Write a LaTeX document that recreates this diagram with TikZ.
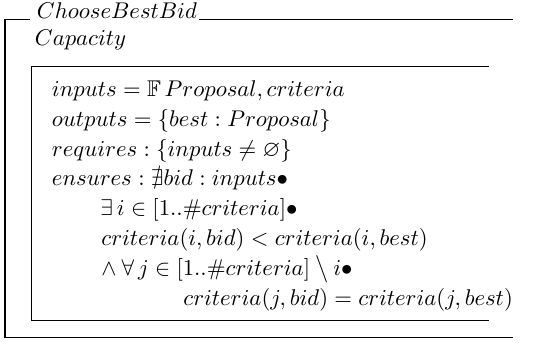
\documentclass[tikz,border=0pt]{standalone}
\usepackage{amssymb}
\begin{document}
\begin{tikzpicture}[x=0.44pt,y=-0.44pt,
  zline/.style={line width=0.45pt},
  ztext/.style={anchor=base west,inner sep=0pt,font=\normalsize}]
\useasboundingbox (0,0) rectangle (533,344);
% outer schema frame
\coordinate (tl) at (5,19.3);
\coordinate (tr) at (513,19.3);
\coordinate (bl) at (5,337.5);
\coordinate (br) at (513,337.5);
\node[ztext] (title) at (36.5,18) {$ChooseBestBid$};
\draw[zline] (title.west |- tl) ++(-6.5,0) -- (tl) -- (bl) -- (br);
\draw[zline] ([xshift=0.8pt]title.east |- tr) -- (tr);
\node[ztext] (cap) at (34.5,45.5) {$Capacity$};
% inner schema frame
\coordinate (itl) at (31.5,66.7);
\coordinate (itr) at (489,66.7);
\coordinate (ibl) at (31.5,320.5);
\coordinate (ibr) at (489,320.5);
\draw[zline] (itr) -- (itl) -- (ibl) -- (ibr);
% predicate lines
\node[ztext] (l1) at (51.5,96.5) {$inputs = \mathbb{F}\,Proposal, criteria$};
\node[ztext] (l2) at (51.5,126.3) {$outputs = \{best : Proposal\}$};
\node[ztext] (l3) at (51.5,156.1) {$requires : \{inputs \neq \varnothing\}$};
\node[ztext] (l4) at (51.5,185.9) {$ensures : \nexists bid : inputs \bullet$};
\node[ztext] (l5) at (100,215.7) {$\exists\, i \in [1..\#criteria]\bullet$};
\node[ztext] (l6) at (101,245.5) {$criteria(i, bid) < criteria(i, best)$};
\node[ztext] (l7) at (101,275.3) {$\land\:\forall\, j \in [1..\#criteria] \mathbin{\big\backslash} i\bullet$};
\node[ztext] (l8) at (183,305.1) {$criteria(j, bid) = criteria(j, best)$};
\end{tikzpicture}
\end{document}
